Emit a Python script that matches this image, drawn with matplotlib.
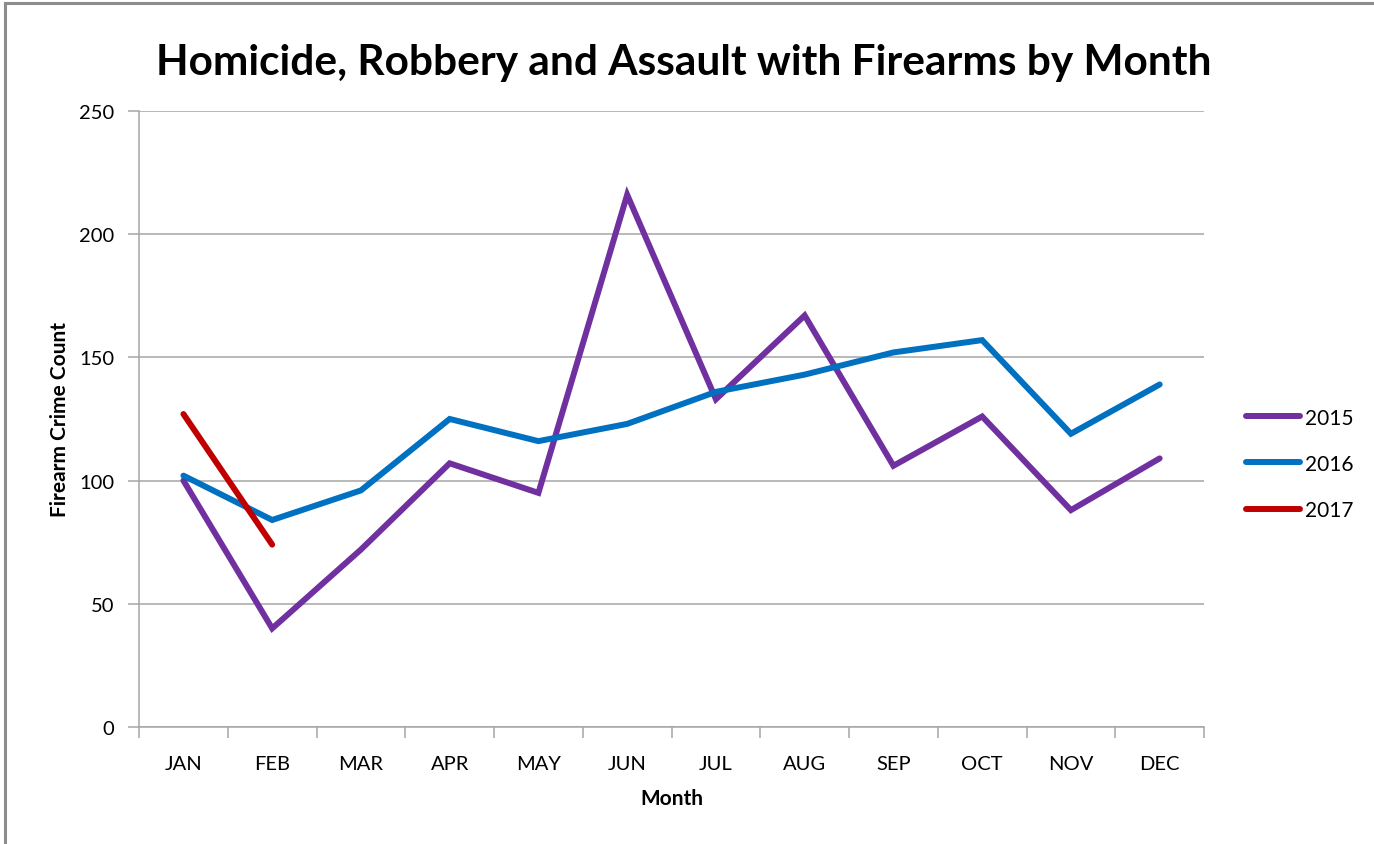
import matplotlib.pyplot as plt
from matplotlib.lines import Line2D

months = ["JAN", "FEB", "MAR", "APR", "MAY", "JUN",
          "JUL", "AUG", "SEP", "OCT", "NOV", "DEC"]
counts_2015 = [100, 40, 72, 107, 95, 216, 133, 167, 106, 126, 88, 109]
counts_2016 = [102, 84, 96, 125, 116, 123, 136, 143, 152, 157, 119, 139]
counts_2017 = [127, 74]

series = [("2015", counts_2015, "#7030A0"),
          ("2016", counts_2016, "#0070C0"),
          ("2017", counts_2017, "#C00000")]

plt.rcParams['font.family'] = ['Lato', 'DejaVu Sans']

fig = plt.figure(figsize=(13.74, 8.45), dpi=100)
ax = fig.add_axes([0.1012, 0.1385, 0.7751, 0.729])

x = list(range(len(months)))
for name, vals, color in series:
    ax.plot(x[:len(vals)], vals, color=color, lw=4.3,
            solid_capstyle='round', solid_joinstyle='miter', label=name)

ax.set_xlim(-0.5, len(months) - 0.5)
ax.set_ylim(0, 250)
ax.set_yticks(range(0, 251, 50))
ax.yaxis.grid(True, color='#a6a6a6', lw=1.1)
ax.set_axisbelow(True)

# category labels centred, tick marks on the boundaries
ax.set_xticks(x)
ax.set_xticklabels(months, fontsize=14.5)
ax.set_xticks([i - 0.5 for i in range(len(months) + 1)], minor=True)
ax.tick_params(axis='x', which='major', length=0, pad=20)
ax.tick_params(axis='x', which='minor', length=8, color='#a6a6a6', width=1.1)
ax.tick_params(axis='y', length=8, color='#a6a6a6', width=1.1, labelsize=14.5, pad=10)

for side in ('top', 'right'):
    ax.spines[side].set_visible(False)
for side in ('left', 'bottom'):
    ax.spines[side].set_color('#a6a6a6')
    ax.spines[side].set_linewidth(1.1)

ax.set_xlabel("Month", fontsize=15, fontweight='bold', labelpad=12)
ax.set_ylabel("Firearm Crime Count", fontsize=15, fontweight='bold', labelpad=6)

fig.text(0.4975, 0.926, "Homicide, Robbery and Assault with Firearms by Month",
         ha='center', va='center', fontsize=30.5, fontweight='bold')

handles = [Line2D([], [], color=c, lw=4.3, solid_capstyle='round') for _, _, c in series]
fig.legend(handles, [s[0] for s in series], loc='center left',
           bbox_to_anchor=(0.893, 0.45), frameon=False, fontsize=15,
           handlelength=2.6, handletextpad=0.25, labelspacing=1.25)

# outer chart border
fig.add_artist(Line2D([0.004, 1.0], [0.995, 0.995], color='#8c8c8c', lw=2.2))
fig.add_artist(Line2D([0.004, 0.004], [0.0, 0.995], color='#8c8c8c', lw=2.2))

fig.savefig("out.png", dpi=100)
